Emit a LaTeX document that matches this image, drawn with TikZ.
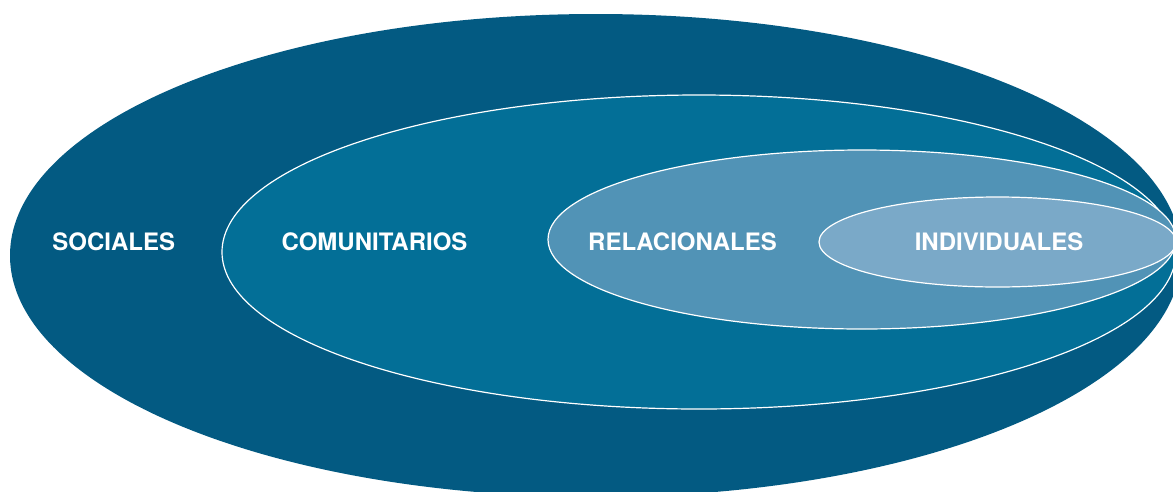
\documentclass[tikz,border=0pt]{standalone}
\usepackage{fontspec}
\setmainfont{TeX Gyre Heros}
\definecolor{c1}{HTML}{035A82}
\definecolor{c2}{HTML}{036F97}
\definecolor{c3}{HTML}{5193B6}
\definecolor{c4}{HTML}{7AA9C8}
\tikzstyle{e1} = [draw=white, line width=1.2pt]
\tikzstyle{t1} = [text=white, font=\fontsize{24}{27}\selectfont\bfseries, inner sep=0pt]

\begin{document}
\begin{tikzpicture}[x=1pt, y=-1pt]
    \useasboundingbox (0,0) rectangle (1173,491);
    \clip (0,0) rectangle (1173,491);
    \fill[c1] (595.7,255.5) ellipse [x radius=585.7, y radius=241.5];
    \filldraw[e1, fill=c2] (699,252) ellipse [x radius=477, y radius=157];
    \filldraw[e1, fill=c3] (862,239.5) ellipse [x radius=314, y radius=89.5];
    \filldraw[e1, fill=c4] (997.5,242) ellipse [x radius=178.5, y radius=45];
    \node[t1] (soc) at (113.8,241.8) {SOCIALES};
    \node[t1] (com) at (374.5,242) {COMUNITARIOS};
    \node[t1] (rel) at (682.5,241.8) {RELACIONALES};
    \node[t1] (ind) at (999,241.8) {INDIVIDUALES};
  \end{tikzpicture}
\end{document}
